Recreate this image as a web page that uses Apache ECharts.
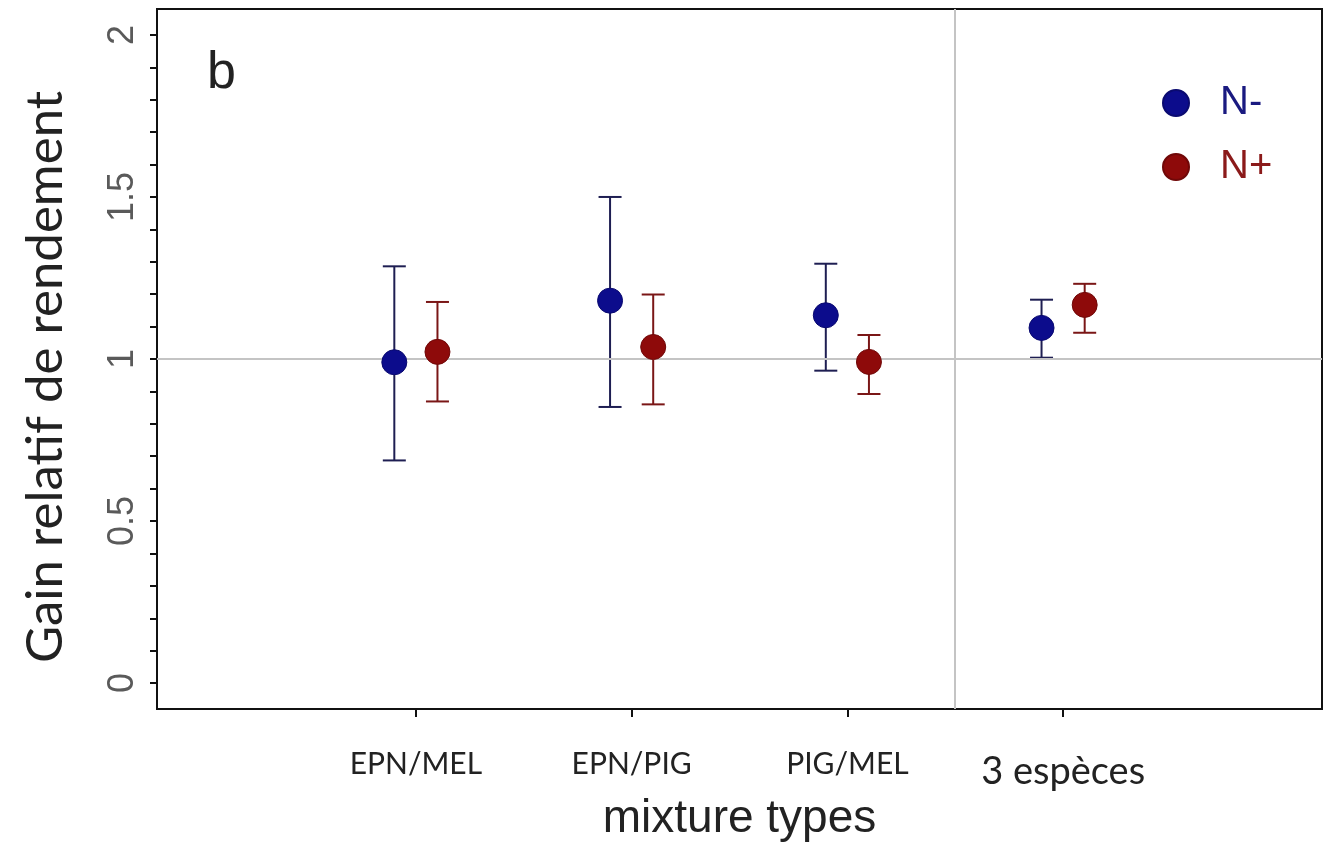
<!DOCTYPE html>
<html>
<head>
<meta charset="utf-8">
<script src="https://cdn.jsdelivr.net/npm/echarts@6/dist/echarts.min.js"></script>
<style>
html,body{margin:0;padding:0;background:#fff;}
#chart{width:1324px;height:847px;}
</style>
</head>
<body>
<div id="chart"></div>
<script>
// ---- data ----
const categories = ['EPN/MEL', 'EPN/PIG', 'PIG/MEL', '3 espèces'];
const nMinusMean = [0.990, 1.180, 1.135, 1.096];
const nMinusLow  = [0.687, 0.852, 0.964, 1.004];
const nMinusHigh = [1.286, 1.500, 1.294, 1.183];
const nPlusMean  = [1.022, 1.037, 0.991, 1.167];
const nPlusLow   = [0.869, 0.860, 0.892, 1.081];
const nPlusHigh  = [1.176, 1.199, 1.074, 1.232];
const yTickValues  = [0, 0.1, 0.2, 0.3, 0.4, 0.5, 0.6, 0.7, 0.8, 0.9, 1, 1.1, 1.2, 1.3, 1.4, 1.5, 1.6, 1.7, 1.8, 1.9, 2];
const yLabelValues = [0, 0.5, 1, 1.5, 2];
const refY = 1;
const refX = 3.5;

// ---- build ----
const OFFSET = 0.1;
const catPos = categories.map((c, i) => i + 1);
function pts(mean, dx) { return mean.map((v, i) => [catPos[i] + dx, v]); }
function bars(lo, hi, dx) { return lo.map((v, i) => [catPos[i] + dx, v, hi[i]]); }

function errRender(color) {
  return function (params, api) {
    const x = api.value(0);
    const p1 = api.coord([x, api.value(1)]);
    const p2 = api.coord([x, api.value(2)]);
    const hw = 11.5;
    const style = { stroke: color, lineWidth: 2 };
    return {
      type: 'group',
      children: [
        { type: 'line', shape: { x1: p1[0], y1: p1[1], x2: p2[0], y2: p2[1] }, style },
        { type: 'line', shape: { x1: p1[0] - hw, y1: p1[1], x2: p1[0] + hw, y2: p1[1] }, style },
        { type: 'line', shape: { x1: p2[0] - hw, y1: p2[1], x2: p2[0] + hw, y2: p2[1] }, style }
      ]
    };
  };
}

const chart = echarts.init(document.getElementById('chart'), null, { renderer: 'canvas' });
chart.setOption({
  backgroundColor: '#ffffff',
  animation: false,
  grid: { left: 157, right: 2, top: 9, bottom: 135, show: true, borderColor: '#111', borderWidth: 2, backgroundColor: 'transparent' },
  xAxis: {
    type: 'value', min: -0.2, max: 5.2,
    splitLine: { show: false },
    axisLine: { show: false, onZero: false },
    axisTick: { show: true, customValues: catPos, length: 8, lineStyle: { color: '#111', width: 2 } },
    axisLabel: {
      customValues: catPos,
      formatter: v => {
        const i = Math.round(v) - 1;
        return i === 3 ? '{big|' + categories[i] + '}' : (categories[i] || '');
      },
      rich: { big: { fontFamily: 'Lato', fontSize: 38, color: '#222', padding: [4, 0, 0, 0] } },
      margin: 40, fontFamily: 'Lato', fontSize: 30, color: '#222'
    },
    name: 'mixture types', nameLocation: 'middle', nameGap: 87,
    nameTextStyle: { fontFamily: 'Liberation Sans', fontSize: 46, color: '#222' }
  },
  yAxis: {
    type: 'value', min: -0.08, max: 2.08,
    splitLine: { show: false },
    axisLine: { show: false, onZero: false },
    axisTick: { show: true, customValues: yTickValues, length: 7, lineStyle: { color: '#111', width: 2 } },
    axisLabel: {
      customValues: yLabelValues, rotate: 90, margin: 16,
      fontFamily: 'Liberation Sans', fontSize: 36, color: '#5a5a5a'
    }
  },
  legend: {
    orient: 'vertical', left: 1157, top: 78, itemWidth: 26, itemHeight: 26, itemGap: 24,
    icon: 'circle',
    textStyle: { fontFamily: 'Liberation Sans', fontSize: 40, padding: [0, 0, 0, 26] },
    data: [
      { name: 'N-', textStyle: { color: '#1a1a80' } },
      { name: 'N+', textStyle: { color: '#8b1a1a' } }
    ]
  },
  graphic: [
    { type: 'text', left: 207, top: 48, style: { text: 'b', fontFamily: 'Liberation Sans', fontSize: 52, fill: '#222' } },
    { type: 'text', x: 46, y: 377, rotation: Math.PI / 2,
      style: { text: 'Gain relatif de rendement', fontFamily: 'Lato', fontSize: 51, fill: '#222', align: 'center', verticalAlign: 'middle' } }
  ],
  series: [
    {
      type: 'custom', name: 'errN-', renderItem: errRender('#1e1e52'), data: bars(nMinusLow, nMinusHigh, -OFFSET), z: 3,
      encode: { x: 0, y: [1, 2] },
      markLine: {
        silent: true, symbol: 'none', label: { show: false },
        lineStyle: { color: '#c4c4c4', width: 2, type: 'solid' },
        data: [{ yAxis: refY }, { xAxis: refX }]
      }
    },
    { type: 'custom', name: 'errN+', renderItem: errRender('#7a1616'), data: bars(nPlusLow, nPlusHigh, OFFSET), z: 3, encode: { x: 0, y: [1, 2] } },
    { type: 'scatter', name: 'N-', data: pts(nMinusMean, -OFFSET), symbol: 'circle', symbolSize: 25, z: 5,
      itemStyle: { color: '#0c0c8c', borderColor: '#0a0a70', borderWidth: 1, opacity: 1 } },
    { type: 'scatter', name: 'N+', data: pts(nPlusMean, OFFSET), symbol: 'circle', symbolSize: 25, z: 5,
      itemStyle: { color: '#8e0a0a', borderColor: '#700808', borderWidth: 1, opacity: 1 } }
  ]
});
</script>
</body>
</html>
